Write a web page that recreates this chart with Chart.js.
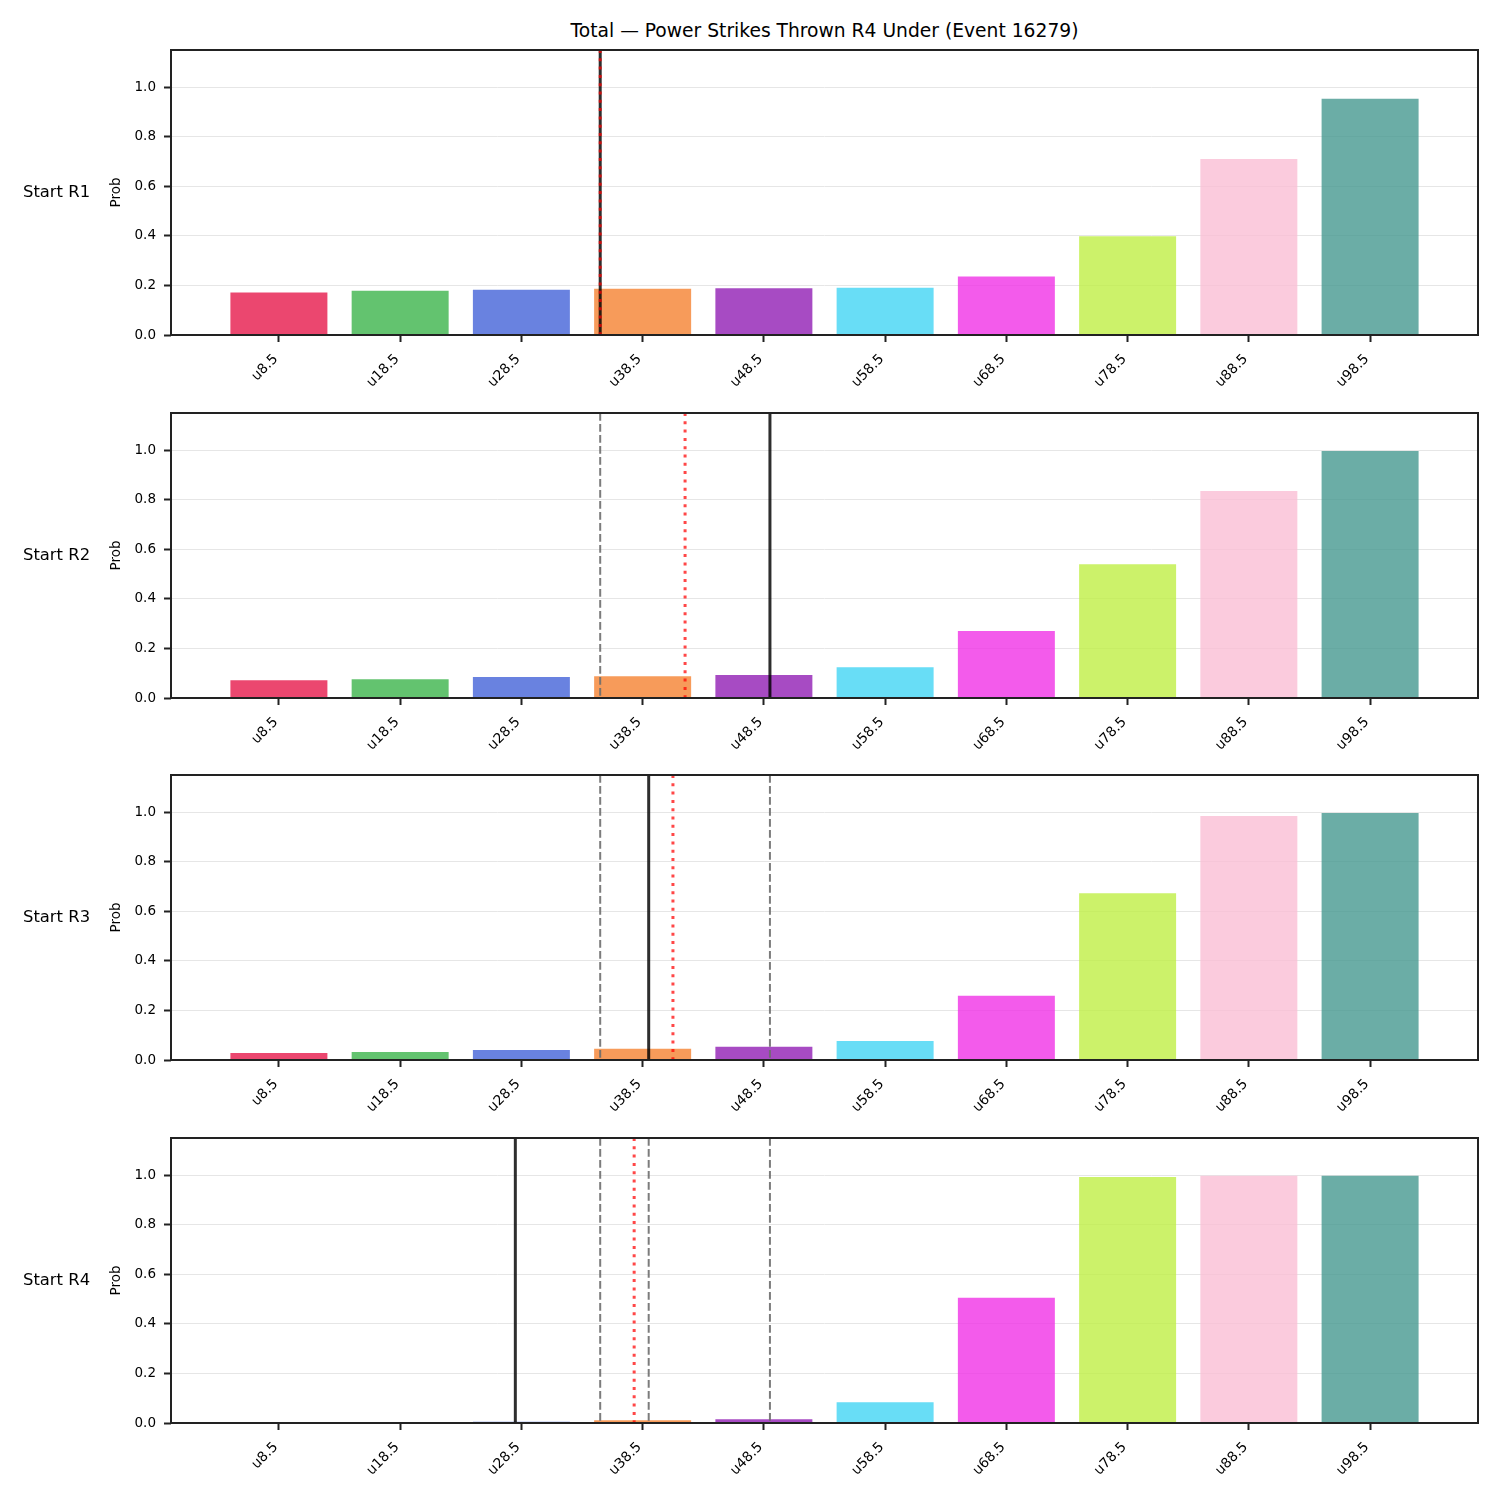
<!DOCTYPE html>
<html><head><meta charset="utf-8">
<script src="https://cdn.jsdelivr.net/npm/chart.js@4/dist/chart.umd.min.js"></script>
<style>
html,body{margin:0;padding:0;background:#fff;}
#wrap{position:relative;width:1500px;height:1500px;font-family:'DejaVu Sans',sans-serif;overflow:hidden;}
canvas{position:absolute;left:0;}
.rowlab{position:absolute;left:23px;font-size:16.4px;color:#000;line-height:1;transform:translateY(-50%);white-space:nowrap;}
#title{position:absolute;left:0;width:1649px;text-align:center;top:31px;font-size:18.7px;line-height:1;transform:translateY(-50%);color:#000;white-space:nowrap;}
</style></head>
<body><div id="wrap"><div id="title">Total — Power Strikes Thrown R4 Under (Event 16279)</div></div>
<script>
// ---- data ----
const categories = ['u8.5','u18.5','u28.5','u38.5','u48.5','u58.5','u68.5','u78.5','u88.5','u98.5'];
const rowLabels = ['Start R1','Start R2','Start R3','Start R4'];
const probR1 = [0.171, 0.179, 0.183, 0.187, 0.189, 0.191, 0.236, 0.398, 0.710, 0.953];
const probR2 = [0.072, 0.076, 0.085, 0.088, 0.093, 0.124, 0.270, 0.540, 0.835, 0.997];
const probR3 = [0.028, 0.032, 0.040, 0.045, 0.053, 0.077, 0.259, 0.673, 0.985, 0.997];
const probR4 = [0.0005, 0.001, 0.005, 0.011, 0.015, 0.084, 0.505, 0.993, 0.998, 0.998];
const solidLine = [35, 49, 39, 28];        // black solid line per row (strikes)
const dottedLine = [35, 42, 41, 37.8];     // red dotted line per row
const dashedLines = [[], [35], [35, 49], [35, 49, 39]]; // gray dashed lines per row
const yTicksMax = 1.0;

const rows = [probR1, probR2, probR3, probR4];
const barColors = ['rgba(230,25,75,0.8)','rgba(60,180,75,0.8)','rgba(67,99,216,0.8)','rgba(245,130,49,0.8)','rgba(145,30,180,0.8)','rgba(66,212,244,0.8)','rgba(240,50,230,0.8)','rgba(191,239,69,0.8)','rgba(250,190,212,0.8)','rgba(70,153,144,0.8)'];

const thresholds = categories.map(c => parseFloat(c.slice(1)));
function toIndex(v){
  for (let i = 0; i < thresholds.length - 1; i++) {
    if (v <= thresholds[i+1] || i === thresholds.length - 2) {
      return i + (v - thresholds[i]) / (thresholds[i+1] - thresholds[i]);
    }
  }
  return 0;
}

Chart.defaults.font.family = "'DejaVu Sans', sans-serif";

const refLines = {
  id: 'refLines',
  afterDatasetsDraw(chart, args, opts){
    const {ctx, chartArea: a} = chart;
    const x = chart.scales.x;
    const r = opts.row;
    ctx.save();
    ctx.beginPath(); ctx.rect(a.left, a.top, a.right - a.left, a.bottom - a.top); ctx.clip();
    const draw = (v, color, w, dash) => {
      const px = x.getPixelForValue(toIndex(v));
      ctx.beginPath(); ctx.setLineDash(dash); ctx.lineCap = 'butt';
      ctx.strokeStyle = color; ctx.lineWidth = w;
      ctx.moveTo(px, a.top); ctx.lineTo(px, a.bottom); ctx.stroke();
    };
    dashedLines[r].forEach(v => draw(v, 'rgba(110,110,110,0.9)', 2, [7.7, 3.3]));
    draw(solidLine[r], 'rgba(0,0,0,0.82)', 3, []);
    draw(dottedLine[r], 'rgba(255,0,0,0.72)', 3, [3, 5.3]);
    ctx.restore();
  }
};
const frame = {
  id: 'frame',
  afterDraw(chart){
    const {ctx, chartArea: a} = chart;
    ctx.save(); ctx.strokeStyle = '#222'; ctx.lineWidth = 2; ctx.setLineDash([]);
    ctx.strokeRect(a.left, a.top, a.right - a.left, a.bottom - a.top);
    ctx.restore();
  }
};

const wrap = document.getElementById('wrap');
const canvasTops = [40, 403, 765, 1128];
rows.forEach((probs, r) => {
  const cv = document.createElement('canvas');
  cv.width = 1500; cv.height = 362;
  cv.style.top = canvasTops[r] + 'px';
  cv.style.width = '1500px'; cv.style.height = '362px';
  wrap.appendChild(cv);
  const lab = document.createElement('div');
  lab.className = 'rowlab';
  lab.textContent = rowLabels[r];
  lab.style.top = (canvasTops[r] + 10 + 142) + 'px';
  wrap.appendChild(lab);

  new Chart(cv, {
    type: 'bar',
    data: { datasets: [{
      data: probs.map((v, i) => ({x: i, y: v})),
      backgroundColor: barColors,
      borderWidth: 0,
      barPercentage: 0.8,
      categoryPercentage: 1.0
    }]},
    options: {
      responsive: false, animation: false, devicePixelRatio: 1,
      layout: {padding: {top: 10, left: 104, right: 22, bottom: 0}},
      plugins: {legend: {display: false}, tooltip: {enabled: false}, title: {display: false}, refLines: {row: r}},
      scales: {
        x: {
          type: 'linear', min: -0.89, max: 9.89, offset: false,
          afterBuildTicks: s => { s.ticks = categories.map((c, i) => ({value: i})); },
          afterFit: s => { s.height = 67; s.paddingLeft = 0; s.paddingRight = 0; },
          ticks: {autoSkip: false, minRotation: 45, maxRotation: 45, padding: 6, color: '#000', font: {size: 13.8},
                  callback: v => categories[Math.round(v)] + ' '},
          grid: {display: true, drawOnChartArea: false, drawTicks: true, tickLength: 7, tickWidth: 2, tickColor: '#222', offset: false},
          border: {display: false}
        },
        y: {
          min: 0, max: 1.15,
          afterBuildTicks: s => { s.ticks = s.ticks.filter(t => t.value <= yTicksMax + 1e-6); },
          afterFit: s => { s.width = 67; s.paddingTop = 0; s.paddingBottom = 0; },
          ticks: {stepSize: 0.2, padding: 8, color: '#000', font: {size: 13.5}, callback: v => Number(v).toFixed(1)},
          grid: {color: '#e6e6e6', lineWidth: 1, tickLength: 7, tickWidth: 2, tickColor: '#222'},
          border: {display: false},
          title: {display: true, text: 'Prob', color: '#000', font: {size: 13.5}, padding: {top: 4, bottom: 4}}
        }
      }
    },
    plugins: [refLines, frame]
  });
});
</script>
</body></html>
